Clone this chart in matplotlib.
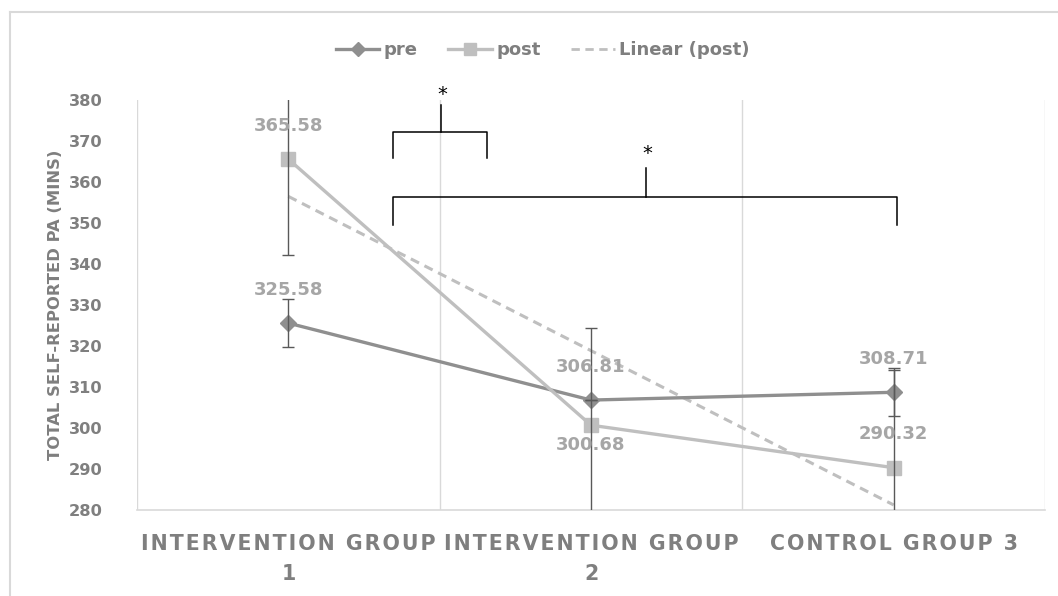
import matplotlib
matplotlib.use("Agg")
import matplotlib.pyplot as plt
import numpy as np
from matplotlib.lines import Line2D

categories = ["INTERVENTION GROUP\n1", "INTERVENTION GROUP\n2", "CONTROL GROUP 3"]
pre = [325.58, 306.81, 308.71]
post = [365.58, 300.68, 290.32]
pre_err = [5.9, 0.0, 5.9]
post_err = [23.4, 23.7, 23.8]
yticks = [280, 290, 300, 310, 320, 330, 340, 350, 360, 370, 380]

plt.rcParams['font.family'] = ['DejaVu Sans']

PRE_C = '#8f8f8f'
POST_C = '#bfbfbf'
LBL_C = '#a6a6a6'
TXT_C = '#7f7f7f'
GRID_C = '#d9d9d9'
ERR_C = '#595959'

fig = plt.figure(figsize=(10.58, 5.96), dpi=100)
ax = fig.add_axes([137/1058, 1-510/596, (1045-137)/1058, 410/596])

x = np.arange(len(categories))

# trend line for post
coef = np.polyfit(x + 1, post, 1)
trend = np.polyval(coef, x + 1)
ax.plot(x, trend, color=POST_C, lw=2.2, ls=(0, (3, 2)), zorder=2)

ax.plot(x, pre, color=PRE_C, lw=2.4, marker='D', ms=8, zorder=3)
ax.plot(x, post, color=POST_C, lw=2.4, marker='s', ms=10, zorder=3)

ax.errorbar(x, pre, yerr=pre_err, fmt='none', ecolor=ERR_C, elinewidth=1.0, capsize=4.5, capthick=1.0, zorder=4)
ax.errorbar(x, post, yerr=post_err, fmt='none', ecolor=ERR_C, elinewidth=1.0, capsize=4.5, capthick=1.0, zorder=4)

# data labels
for i, v in enumerate(pre):
    ax.annotate(f"{v:.2f}", (x[i], v), xytext=(0, 24), textcoords='offset points',
                ha='center', va='center', color=LBL_C, fontsize=13, fontweight='bold', zorder=5)
post_off = [24, -14, 24]
for i, v in enumerate(post):
    ax.annotate(f"{v:.2f}", (x[i], v), xytext=(0, post_off[i]), textcoords='offset points',
                ha='center', va='center', color=LBL_C, fontsize=13, fontweight='bold', zorder=5)

ax.set_xlim(-0.5, 2.5)
ax.set_ylim(280, 380)
ax.set_yticks(yticks)
ax.set_yticklabels([str(t) for t in yticks])
ax.tick_params(axis='y', length=0, pad=25, labelsize=11.7, labelcolor=TXT_C)
for lab in ax.get_yticklabels():
    lab.set_fontweight('bold')

ax.set_xticks(x)
spaced = ["\u200a".join(list(c)).replace("\u200a\n\u200a", "\n") for c in categories]
ax.set_xticklabels(spaced)
ax.tick_params(axis='x', length=0, pad=17, labelsize=14.8, labelcolor=TXT_C)
for lab in ax.get_xticklabels():
    lab.set_fontweight('bold')
    lab.set_linespacing(1.65)

for b in [-0.5, 0.5, 1.5, 2.5]:
    ax.axvline(b, color=GRID_C, lw=1.0, zorder=0)
for s in ['top', 'right', 'left']:
    ax.spines[s].set_visible(False)
ax.spines['bottom'].set_color(GRID_C)
ax.spines['bottom'].set_linewidth(1.2)

ax.set_ylabel("TOTAL SELF-REPORTED PA (MINS)", color=TXT_C, fontsize=11.8, fontweight='bold', labelpad=4)

# significance brackets
bk = dict(color='black', lw=1.1, clip_on=False, zorder=6)
ax.plot([0.347, 0.347, 0.657, 0.657], [365.9, 372.2, 372.2, 365.9], **bk)
ax.plot([0.505, 0.505], [372.2, 378.8], **bk)
ax.text(0.508, 381.3, "*", ha='center', va='center', fontsize=14, color='black', clip_on=False)
ax.plot([0.347, 0.347, 2.012, 2.012], [349.5, 356.3, 356.3, 349.5], **bk)
ax.plot([1.182, 1.182], [356.3, 363.4], **bk)
ax.text(1.185, 367.0, "*", ha='center', va='center', fontsize=14, color='black', clip_on=False)

# legend
handles = [
    Line2D([], [], color=PRE_C, lw=2.4, marker='D', ms=7),
    Line2D([], [], color=POST_C, lw=2.4, marker='s', ms=9),
    Line2D([], [], color=POST_C, lw=2.0, ls=(0, (3, 2))),
]
leg = fig.legend(handles, ["pre", "post", "Linear (post)"], loc='center', ncol=3,
                 bbox_to_anchor=(0.513, 1-50/596), frameon=False, handlelength=2.4,
                 handletextpad=0.25, columnspacing=1.7, prop={'size': 13, 'weight': 'bold'})
for t in leg.get_texts():
    t.set_color(TXT_C)

# outer chart border (cropped)
fig.add_artist(Line2D([10/1058, 10/1058], [0, 1-12/596], color=GRID_C, lw=1.5, transform=fig.transFigure))
fig.add_artist(Line2D([10/1058, 1], [1-12/596, 1-12/596], color=GRID_C, lw=1.5, transform=fig.transFigure))

fig.savefig("out.png", dpi=100)
